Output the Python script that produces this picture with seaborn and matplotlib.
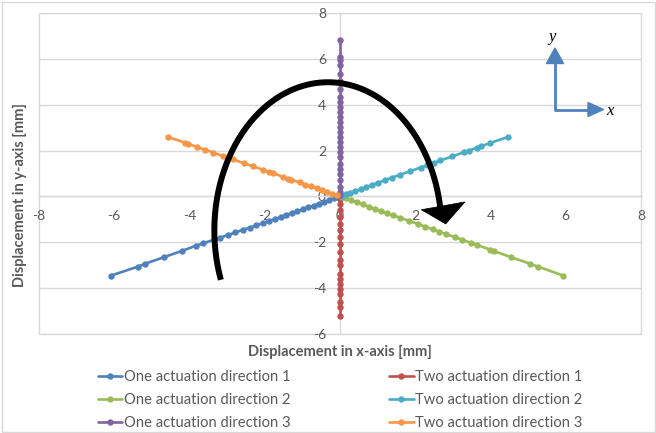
import numpy as np
import matplotlib
matplotlib.use("Agg")
import matplotlib.pyplot as plt
from matplotlib.patches import Polygon, Rectangle
import seaborn as sns

# ---- measured displacements [mm] ----
one_dir1_x = [-6.08, -5.37, -5.17, -4.68, -4.19, -3.83, -3.63, -3.34, -3.19, -2.99, -2.78, -2.57, -2.40,
              -2.22, -2.05, -1.90, -1.74, -1.58, -1.43, -1.28, -1.13, -0.98, -0.84, -0.70, -0.56, -0.42,
              -0.28, -0.15, -0.05]
one_dir1_y = [-3.45, -3.06, -2.93, -2.65, -2.37, -2.15, -2.04, -1.88, -1.80, -1.69, -1.57, -1.45, -1.36,
              -1.26, -1.16, -1.08, -0.99, -0.90, -0.81, -0.73, -0.64, -0.56, -0.48, -0.40, -0.32, -0.24,
              -0.16, -0.09, -0.03]

two_dir1_x = [0.0] * 19
two_dir1_y = [-0.10, -0.32, -0.60, -0.90, -1.20, -1.48, -1.78, -2.07, -2.43, -2.79, -3.01, -3.38, -3.60,
              -3.81, -4.05, -4.25, -4.62, -4.83, -5.20]

one_dir2_x = [5.93, 5.26, 5.04, 4.55, 4.10, 3.99, 3.65, 3.49, 3.25, 3.05, 2.83, 2.63, 2.48, 2.27, 2.07,
              1.83, 1.60, 1.42, 1.25, 1.08, 0.92, 0.76, 0.60, 0.45, 0.30, 0.16, 0.05]
one_dir2_y = [-3.45, -3.06, -2.93, -2.65, -2.39, -2.32, -2.12, -2.03, -1.89, -1.77, -1.65, -1.53, -1.44,
              -1.32, -1.20, -1.06, -0.93, -0.83, -0.73, -0.63, -0.54, -0.44, -0.35, -0.26, -0.17, -0.09,
              -0.03]

two_dir2_x = [4.46, 3.99, 3.75, 3.65, 3.43, 3.30, 2.99, 2.67, 2.50, 2.30, 2.14, 1.87, 1.60, 1.38, 1.20,
              1.02, 0.86, 0.70, 0.55, 0.40, 0.27, 0.15, 0.05]
two_dir2_y = [2.59, 2.33, 2.19, 2.13, 2.00, 1.93, 1.75, 1.57, 1.46, 1.35, 1.26, 1.10, 0.95, 0.82, 0.71,
              0.60, 0.51, 0.41, 0.32, 0.23, 0.16, 0.09, 0.03]

one_dir3_x = [0.0] * 27
one_dir3_y = [6.84, 6.08, 5.94, 5.72, 5.36, 5.05, 4.70, 4.34, 4.10, 3.90, 3.68, 3.46, 3.25, 3.03, 2.80,
              2.59, 2.37, 2.15, 1.93, 1.72, 1.43, 1.20, 0.99, 0.70, 0.41, 0.20, 0.05]

two_dir3_x = [-4.56, -4.12, -4.05, -3.79, -3.58, -3.37, -3.10, -2.85, -2.54, -2.32, -2.05, -1.90, -1.78,
              -1.52, -1.38, -1.29, -1.07, -0.92, -0.78, -0.62, -0.48, -0.34, -0.20, -0.08]
two_dir3_y = [2.59, 2.34, 2.30, 2.15, 2.03, 1.91, 1.76, 1.62, 1.44, 1.32, 1.16, 1.08, 1.01, 0.86, 0.78,
              0.73, 0.61, 0.52, 0.44, 0.35, 0.27, 0.19, 0.11, 0.05]

series_labels = ["One actuation direction 1", "Two actuation direction 1",
                 "One actuation direction 2", "Two actuation direction 2",
                 "One actuation direction 3", "Two actuation direction 3"]
series_colors = ["#4F81BD", "#C0504D", "#9BBB59", "#4BACC6", "#8064A2", "#F79646"]
x_ticks = [-8, -6, -4, -2, 0, 2, 4, 6, 8]
y_ticks = [-6, -4, -2, 0, 2, 4, 6, 8]

series_xy = {
    series_labels[0]: (one_dir1_x, one_dir1_y),
    series_labels[1]: (two_dir1_x, two_dir1_y),
    series_labels[2]: (one_dir2_x, one_dir2_y),
    series_labels[3]: (two_dir2_x, two_dir2_y),
    series_labels[4]: (one_dir3_x, one_dir3_y),
    series_labels[5]: (two_dir3_x, two_dir3_y),
}

sns.set_theme(style="white")
plt.rcParams["font.family"] = ["Lato", "DejaVu Sans"]
TXT = "#595959"
GRID = "#D9D9D9"

W, H = 656, 433
fig = plt.figure(figsize=(W / 100, H / 100), dpi=100)
fig.patch.set_facecolor("white")
ax = fig.add_axes([39 / W, 1 - 334 / H, (641 - 39) / W, (334 - 13) / H])

# draw order so that purple and orange sit on top near the origin
draw_order = [0, 1, 2, 4, 3, 5]
for i in draw_order:
    lab = series_labels[i]
    xs, ys = series_xy[lab]
    sns.lineplot(x=xs, y=ys, sort=False, estimator=None, ax=ax, color=series_colors[i],
                 linewidth=1.9, marker="o", markersize=4.6, markeredgewidth=0, label=lab,
                 zorder=3 + i * 0.1)
h, l = ax.get_legend_handles_labels()
hmap = dict(zip(l, h))
ax.get_legend().remove()

ax.set_xlim(-8, 8)
ax.set_ylim(-6, 8)
ax.set_xticks(x_ticks)
ax.set_yticks(y_ticks)
ax.set_xticklabels([str(t) for t in x_ticks])
ax.set_yticklabels([str(t) for t in y_ticks])
ax.set_xlabel("")
ax.set_ylabel("")

for s in ["top", "right"]:
    ax.spines[s].set_visible(False)
ax.spines["left"].set_position(("data", 0))
ax.spines["bottom"].set_position(("data", 0))
for s in ["left", "bottom"]:
    ax.spines[s].set_color(GRID)
    ax.spines[s].set_linewidth(1.0)
    ax.spines[s].set_zorder(1)
ax.add_patch(Rectangle((0, 0), 1, 1, transform=ax.transAxes, fill=False,
                       edgecolor=GRID, linewidth=1.0, zorder=0.5, clip_on=False))

ax.set_axisbelow(True)
ax.yaxis.grid(True, color=GRID, linewidth=1.0)
ax.xaxis.grid(False)
ax.tick_params(axis="both", length=0, labelcolor=TXT, labelsize=10)
ax.tick_params(axis="x", pad=10)
ax.tick_params(axis="y", pad=10)

# rotation sketch: elliptical arc ending in an arrowhead
t = np.deg2rad(np.linspace(199.5, 8, 200))
ax.plot(-0.32 + 3.02 * np.cos(t), -1.48 + 6.46 * np.sin(t), color="black", linewidth=4.3,
        solid_capstyle="butt", zorder=6)
ax.add_patch(Polygon([[2.16, -0.58], [3.32, -0.24], [2.81, -1.20]], closed=True,
                     facecolor="black", edgecolor="black", linewidth=0.5, zorder=6))

# axis titles
fig.text(340 / W, 1 - 352 / H, "Displacement in x-axis [mm]", ha="center", va="center",
         fontsize=10.5, fontweight="bold", color=TXT)
fig.text(20 / W, 1 - 195 / H, "Displacement in y-axis [mm]", ha="center", va="center",
         rotation=90, fontsize=10.5, fontweight="bold", color=TXT)

# legend (two columns, filled column-wise)
order = [0, 2, 4, 1, 3, 5]
leg = fig.legend([hmap[series_labels[i]] for i in order], [series_labels[i] for i in order],
                 loc="upper left", bbox_to_anchor=(98 / W, 1 - 370 / H), ncol=2, frameon=False,
                 fontsize=10.6, handlelength=1.65, handletextpad=0.12, columnspacing=6.7,
                 labelspacing=0.6, borderaxespad=0, borderpad=0)
for txt in leg.get_texts():
    txt.set_color(TXT)

# overlay in pixel units for the coordinate icon and chart frame
ov = fig.add_axes([0, 0, 1, 1], facecolor="none")
ov.set_xlim(0, W)
ov.set_ylim(H, 0)
ov.axis("off")
ICON = "#4F81BD"
ov.plot([555, 555], [109.5, 62], color=ICON, linewidth=2.0, solid_capstyle="butt")
ov.plot([554, 589], [109.5, 109.5], color=ICON, linewidth=2.0, solid_capstyle="butt")
ov.add_patch(Polygon([[546.5, 63.5], [563.5, 63.5], [555, 48]], closed=True, color=ICON))
ov.add_patch(Polygon([[588, 102.5], [588, 116.5], [603.5, 109.5]], closed=True, color=ICON))
ov.text(552, 37, "y", fontsize=12, fontstyle="italic", family=["Liberation Serif"],
        ha="center", va="center", color="black")
ov.text(610, 111, "x", fontsize=12, fontstyle="italic", family=["Liberation Serif"],
        ha="center", va="center", color="black")
ov.add_patch(Rectangle((1.5, 1.5), W - 3, H - 3, fill=False, edgecolor=GRID, linewidth=1.0))

fig.savefig("out.png", dpi=100)
